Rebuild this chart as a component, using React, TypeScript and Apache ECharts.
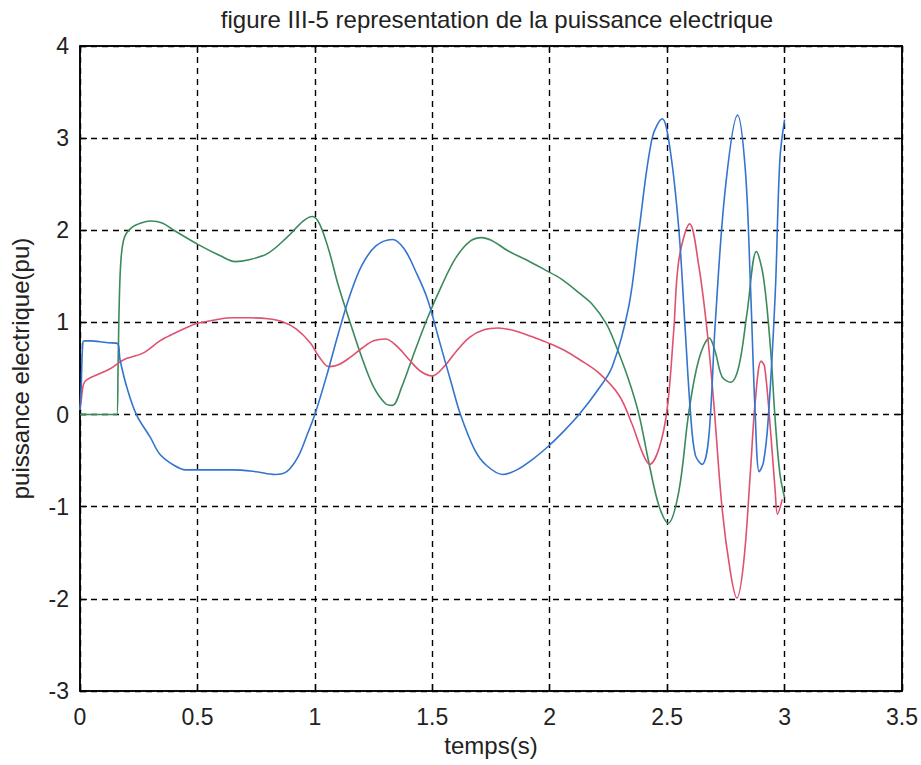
import React, { useEffect, useRef } from "react";
import * as echarts from "echarts";

const titleText = "figure III-5 representation de la puissance electrique";
const xLabel = "temps(s)";
const yLabel = "puissance electrique(pu)";

// [temps (s), puissance (pu)]
const blueSeries: [number, number][] = [
  [0, 0.05], [0.005, 0.3], [0.012, 0.78], [0.02, 0.8], [0.05, 0.8], [0.085, 0.79], [0.12, 0.78], [0.16, 0.77],
  [0.17, 0.6], [0.2, 0.29], [0.24, 0.0], [0.3, -0.25], [0.34, -0.43], [0.4, -0.55], [0.45, -0.6],
  [0.55, -0.6], [0.65, -0.6], [0.75, -0.62], [0.83, -0.65], [0.88, -0.62], [0.93, -0.45], [0.97, -0.2],
  [1.0, 0.0], [1.05, 0.42], [1.1, 0.88], [1.15, 1.3], [1.2, 1.62], [1.26, 1.83], [1.33, 1.9], [1.38, 1.8],
  [1.43, 1.55], [1.48, 1.25], [1.53, 0.8], [1.58, 0.35], [1.62, 0.0], [1.68, -0.38], [1.73, -0.55],
  [1.8, -0.65], [1.86, -0.6], [1.93, -0.48], [2.0, -0.33], [2.06, -0.18], [2.125, 0.0], [2.2, 0.25],
  [2.266, 0.52], [2.337, 1.18], [2.38, 2.0], [2.436, 3.0], [2.479, 3.21], [2.514, 2.85], [2.55, 2.0],
  [2.575, 1.0], [2.6, 0.0], [2.62, -0.44], [2.649, -0.54], [2.677, -0.25], [2.705, 1.0], [2.748, 2.46],
  [2.8, 3.25], [2.833, 2.65], [2.854, 1.45], [2.875, 0.0], [2.892, -0.62], [2.91, -0.52], [2.93, -0.06],
  [2.96, 1.3], [2.98, 2.77], [3.0, 3.2],
];

const greenSeries: [number, number][] = [
  [0, 0], [0.157, 0], [0.162, 0.5], [0.167, 1.2], [0.175, 1.7], [0.19, 1.93], [0.22, 2.03], [0.26, 2.08],
  [0.3, 2.1], [0.35, 2.08], [0.4, 2.0], [0.5, 1.85], [0.6, 1.72], [0.66, 1.66], [0.72, 1.68], [0.8, 1.75],
  [0.88, 1.92], [0.95, 2.1], [0.99, 2.15], [1.02, 2.07], [1.06, 1.78], [1.1, 1.4], [1.15, 1.0], [1.2, 0.62],
  [1.25, 0.3], [1.3, 0.12], [1.33, 0.1], [1.37, 0.3], [1.42, 0.65], [1.48, 1.05], [1.54, 1.4], [1.6, 1.7],
  [1.66, 1.88], [1.71, 1.92], [1.76, 1.88], [1.82, 1.78], [1.9, 1.68], [1.98, 1.57], [2.05, 1.47],
  [2.125, 1.32], [2.18, 1.2], [2.24, 0.99], [2.28, 0.76], [2.337, 0.37], [2.38, 0.0], [2.422, -0.52],
  [2.465, -0.99], [2.504, -1.18], [2.55, -0.83], [2.592, 0.02], [2.635, 0.6], [2.68, 0.83], [2.705, 0.68],
  [2.734, 0.41], [2.77, 0.35], [2.805, 0.52], [2.84, 1.1], [2.88, 1.77], [2.91, 1.49], [2.94, 0.72],
  [2.96, -0.06], [2.98, -0.64], [3.0, -0.9],
];

const redSeries: [number, number][] = [
  [0, 0.05], [0.005, 0.15], [0.015, 0.33], [0.03, 0.38], [0.08, 0.44], [0.13, 0.5], [0.17, 0.57],
  [0.2, 0.61], [0.27, 0.67], [0.34, 0.8], [0.4, 0.88], [0.45, 0.94], [0.5, 0.99], [0.58, 1.03],
  [0.65, 1.05], [0.72, 1.05], [0.8, 1.04], [0.86, 1.01], [0.92, 0.93], [0.98, 0.78], [1.02, 0.62],
  [1.06, 0.52], [1.1, 0.54], [1.15, 0.62], [1.2, 0.72], [1.25, 0.8], [1.3, 0.82], [1.35, 0.74], [1.4, 0.6],
  [1.45, 0.47], [1.5, 0.42], [1.55, 0.52], [1.6, 0.68], [1.66, 0.84], [1.72, 0.92], [1.78, 0.94],
  [1.85, 0.91], [1.92, 0.85], [2.0, 0.77], [2.06, 0.7], [2.125, 0.6], [2.21, 0.45], [2.295, 0.21],
  [2.35, -0.1], [2.394, -0.41], [2.425, -0.54], [2.465, -0.37], [2.5, 0.06], [2.528, 0.91], [2.55, 1.68],
  [2.596, 2.07], [2.635, 1.61], [2.67, 0.91], [2.698, 0.14], [2.734, -1.02], [2.77, -1.72], [2.797, -1.99],
  [2.826, -1.6], [2.854, -0.64], [2.875, 0.14], [2.9, 0.58], [2.915, 0.52], [2.94, -0.17], [2.96, -0.83],
  [2.97, -1.08], [2.99, -0.92],
];

const FONT = "'Liberation Sans', Arial, sans-serif";

export default function App() {
  const ref = useRef<HTMLDivElement>(null);
  useEffect(() => {
    if (!ref.current) return;
    const chart = echarts.init(ref.current, null, { renderer: "svg" });
    const dashed = { show: true, lineStyle: { color: "#000", width: 1.4, type: [6, 5] as any } };
    const tick = { show: true, inside: true, length: 7, lineStyle: { color: "#000", width: 1.3 } };
    const frameLine = { show: true, onZero: false, lineStyle: { color: "#000", width: 1.5 } };
    const lineSeries = (data: [number, number][], color: string) => ({
      type: "line",
      data,
      showSymbol: false,
      smooth: 0.35,
      lineStyle: { color, width: 1.6 },
      itemStyle: { color },
      xAxisIndex: 0,
      yAxisIndex: 0,
    });
    chart.setOption({
      animation: false,
      backgroundColor: "#ffffff",
      title: {
        text: titleText,
        left: 492,
        textAlign: "center",
        top: 2,
        textStyle: { fontFamily: FONT, fontSize: 24, fontWeight: "normal", color: "#222" },
      },
      grid: {
        left: 80,
        right: 17,
        top: 46,
        bottom: 74,
        show: true,
        borderColor: "#000",
        borderWidth: 1.5,
        backgroundColor: "#fff",
      },
      xAxis: [
        {
          type: "value",
          min: 0,
          max: 3.5,
          interval: 0.5,
          position: "bottom",
          name: xLabel,
          nameLocation: "middle",
          nameGap: 42,
          nameTextStyle: { fontFamily: FONT, fontSize: 24, color: "#222" },
          axisLine: frameLine,
          axisTick: tick,
          axisLabel: { fontFamily: FONT, fontSize: 23, color: "#222", margin: 14 },
          splitLine: dashed,
        },
        {
          type: "value",
          min: 0,
          max: 3.5,
          interval: 0.5,
          position: "top",
          axisLine: frameLine,
          axisTick: tick,
          axisLabel: { show: false },
          splitLine: { show: false },
        },
      ],
      yAxis: [
        {
          type: "value",
          min: -3,
          max: 4,
          interval: 1,
          position: "left",
          name: yLabel,
          nameLocation: "middle",
          nameGap: 48,
          nameRotate: 90,
          nameTextStyle: { fontFamily: FONT, fontSize: 24, color: "#222" },
          axisLine: frameLine,
          axisTick: tick,
          axisLabel: { fontFamily: FONT, fontSize: 23, color: "#222", margin: 11 },
          splitLine: dashed,
        },
        {
          type: "value",
          min: -3,
          max: 4,
          interval: 1,
          position: "right",
          axisLine: frameLine,
          axisTick: tick,
          axisLabel: { show: false },
          splitLine: { show: false },
        },
      ],
      series: [
        lineSeries(greenSeries, "#3b8a5c"),
        lineSeries(redSeries, "#e0506f"),
        lineSeries(blueSeries, "#3474cf"),
      ],
    });
    return () => chart.dispose();
  }, []);
  return (
    <div
      ref={ref}
      style={{ position: "fixed", left: 0, top: 0, width: 921, height: 765, background: "#fff" }}
    />
  );
}
